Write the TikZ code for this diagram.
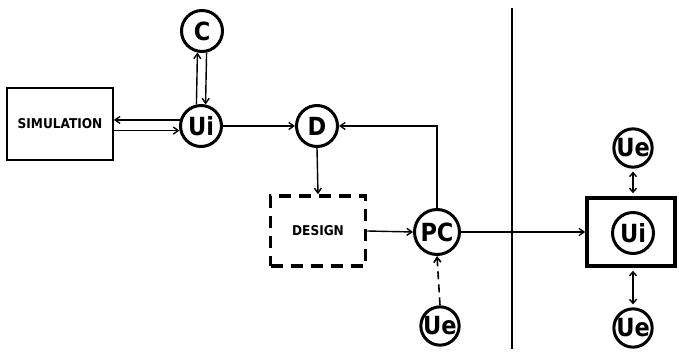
\documentclass[tikz,border=0pt]{standalone}
\usepackage{fontspec}
\setmainfont{DejaVu Sans Condensed}
\usetikzlibrary{arrows.meta}
\begin{document}
\begin{tikzpicture}[x=1pt,y=-1pt,
  circ/.style={circle,draw,line width=3pt,minimum size=41pt,inner sep=0pt,font=\fontsize{25}{25}\selectfont\bfseries},
  smallcirc/.style={circ,minimum size=38pt},
  lbl/.style={font=\fontsize{13.5}{13.5}\selectfont\bfseries},
  conn/.style={line width=1.4pt,-{Straight Barb[length=5pt,width=7pt]}},
  dconn/.style={line width=1.4pt,{Straight Barb[length=4pt,width=7pt]}-{Straight Barb[length=4pt,width=7pt]},shorten <=3pt,shorten >=3pt}]
\useasboundingbox (0,0) rectangle (679,352);
\node[draw,line width=1.8pt,minimum width=106pt,minimum height=72pt,lbl] (sim) at (60,124) {SIMULATION};
\node[circ] (ui) at (201,126) {Ui};
\node[circ] (c) at (202,31) {C};
\node[circ] (d) at (317,126) {D};
\node[draw,line width=3.5pt,dash pattern=on 12pt off 8pt,minimum width=95pt,minimum height=70pt,lbl] (design) at (318,231) {DESIGN};
\node[circ,minimum size=45pt] (pc) at (437,232) {PC};
\node[smallcirc] (ue1) at (440,326) {Ue};
\draw[line width=2.2pt] (512,8) coordinate (vt) -- (512,349) coordinate (vb);
\node[draw,line width=3.6pt,minimum width=88pt,minimum height=68pt] (box) at (631,232) {};
\node[circ] (ui2) at (633,233) {Ui};
\node[smallcirc] (ue2) at (633,148) {Ue};
\node[smallcirc] (ue3) at (633,328) {Ue};
% connectors
\draw[conn] (ui.164) -- (sim.east |- ui.164);
\draw[conn] (sim.east |- ui.192) -- (ui.192);
\draw[conn] (ui.102) -- (c.258);
\draw[conn] (c.282) -- (ui.78);
\draw[conn] (ui.east) -- (d.west);
\draw[conn] (pc.north) |- (d.east);
\draw[conn] (d.south) -- (design.north);
\draw[conn] (design.east) -- (pc.west);
\draw[conn,line width=1.6pt,dash pattern=on 8pt off 5pt] (ue1.north) -- (pc.south);
\draw[conn] (pc.east) -- (box.west);
\draw[dconn] (ue2.south) -- (box.north -| ue2.south);
\draw[dconn] (box.south -| ue3.north) -- (ue3.north);
\end{tikzpicture}
\end{document}
